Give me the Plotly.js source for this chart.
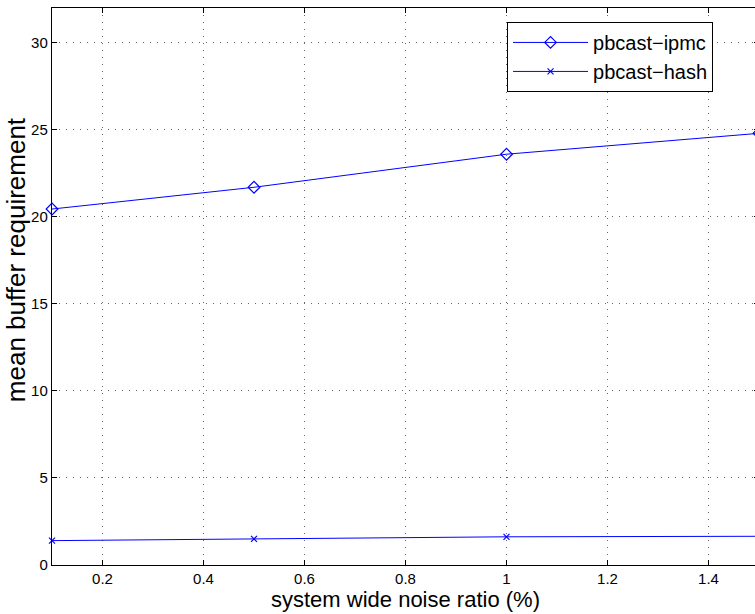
<!DOCTYPE html>
<html>
<head>
<meta charset="utf-8">
<script src="https://cdn.plot.ly/plotly-3.0.1.min.js"></script>
<style>
html,body{margin:0;padding:0;overflow:hidden;background:#fff;}
#chart{width:770px;height:614px;}
</style>
</head>
<body>
<div id="chart"></div>
<script>
const noiseRatio = [0.1, 0.5, 1.0, 1.5];
const ipmcBuffer = [20.45, 21.7, 23.6, 24.8];
const hashBuffer = [1.4, 1.5, 1.62, 1.65];
const seriesNames = ["pbcast\u2212ipmc", "pbcast\u2212hash"];
const xTicks = [0.2, 0.4, 0.6, 0.8, 1, 1.2, 1.4];
const yTicks = [0, 5, 10, 15, 20, 25, 30];
const xTitle = "system wide noise ratio (%)";
const yTitle = "mean buffer requirement";

const blue = "rgb(0,0,255)";
const traces = [
  {
    x: noiseRatio, y: ipmcBuffer, name: seriesNames[0],
    mode: "lines+markers", type: "scatter", cliponaxis: false,
    line: {color: blue, width: 1},
    marker: {symbol: "diamond-open", size: 9, color: blue, line: {width: 1.2, color: blue}}
  },
  {
    x: noiseRatio, y: hashBuffer, name: seriesNames[1],
    mode: "lines+markers", type: "scatter", cliponaxis: false,
    line: {color: blue, width: 1},
    marker: {symbol: "x-thin-open", size: 6, color: blue, line: {width: 1.2, color: blue}}
  }
];

const axisCommon = {
  showline: true, linecolor: "black", linewidth: 1.2,
  mirror: "ticks", ticks: "inside", ticklen: 5, tickcolor: "black",
  showgrid: true, gridcolor: "rgba(0,0,0,0.6)", gridwidth: 1, griddash: "1px,6px",
  zeroline: false,
  tickfont: {family: "Liberation Sans, Arial, sans-serif", size: 15, color: "black"}
};

const layout = {
  width: 770, height: 614,
  margin: {l: 52, r: 11, t: 8, b: 49},
  paper_bgcolor: "white", plot_bgcolor: "white",
  font: {family: "Liberation Sans, Arial, sans-serif", color: "black"},
  xaxis: Object.assign({}, axisCommon, {
    range: [0.1, 1.5], tickvals: xTicks, ticktext: xTicks.map(String),
    title: {text: xTitle, font: {size: 22}, standoff: 1}
  }),
  yaxis: Object.assign({}, axisCommon, {
    range: [0, 32], tickvals: yTicks, ticktext: yTicks.map(String)
  }),
  annotations: [{
    text: yTitle, textangle: -90, showarrow: false,
    xref: "paper", yref: "paper", x: -0.051, y: 0.549,
    xanchor: "center", yanchor: "middle",
    font: {size: 26, family: "Liberation Sans, Arial, sans-serif", color: "black"}
  }],
  showlegend: true,
  legend: {
    x: 0.6436, y: 0.975, xanchor: "left", yanchor: "top",
    bgcolor: "white", bordercolor: "black", borderwidth: 1,
    font: {size: 20, family: "Liberation Sans, Arial, sans-serif"},
    itemwidth: 75, tracegroupgap: 0
  }
};

Plotly.newPlot("chart", traces, layout, {displayModeBar: false, staticPlot: true});
</script>
</body>
</html>
